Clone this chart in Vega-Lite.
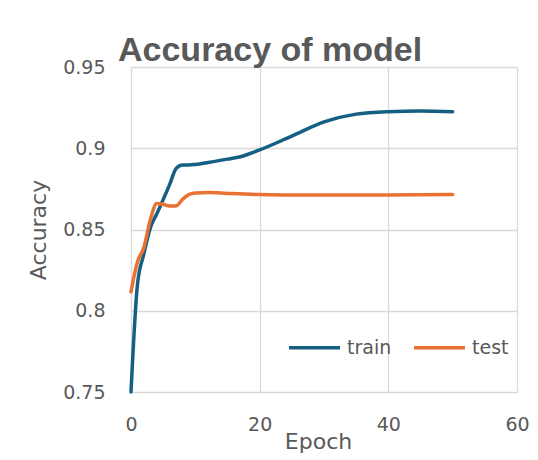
{
  "$schema": "https://vega.github.io/schema/vega-lite/v6.json",
  "width": 386,
  "height": 325,
  "autosize": "none",
  "padding": {"left": 131, "top": 67, "right": 21, "bottom": 68},
  "background": "white",
  "title": {
    "text": "Accuracy of model",
    "anchor": "start",
    "frame": "group",
    "dx": -13,
    "dy": 44,
    "offset": 7,
    "baseline": "alphabetic",
    "font": "Liberation Sans",
    "fontSize": 34,
    "fontWeight": "bold",
    "color": "#595959"
  },
  "data": {
    "values": [
      {"epoch": 0, "series": "train", "accuracy": 0.75},
      {"epoch": 1, "series": "train", "accuracy": 0.816},
      {"epoch": 2, "series": "train", "accuracy": 0.835},
      {"epoch": 3, "series": "train", "accuracy": 0.851},
      {"epoch": 4, "series": "train", "accuracy": 0.8595},
      {"epoch": 5, "series": "train", "accuracy": 0.8684},
      {"epoch": 6, "series": "train", "accuracy": 0.8776},
      {"epoch": 7, "series": "train", "accuracy": 0.8875},
      {"epoch": 8, "series": "train", "accuracy": 0.8897},
      {"epoch": 9, "series": "train", "accuracy": 0.8897},
      {"epoch": 10, "series": "train", "accuracy": 0.89},
      {"epoch": 12, "series": "train", "accuracy": 0.8912},
      {"epoch": 15, "series": "train", "accuracy": 0.8933},
      {"epoch": 17, "series": "train", "accuracy": 0.8948},
      {"epoch": 20, "series": "train", "accuracy": 0.899},
      {"epoch": 25, "series": "train", "accuracy": 0.9075},
      {"epoch": 30, "series": "train", "accuracy": 0.9162},
      {"epoch": 35, "series": "train", "accuracy": 0.921},
      {"epoch": 40, "series": "train", "accuracy": 0.9225},
      {"epoch": 45, "series": "train", "accuracy": 0.9229},
      {"epoch": 50, "series": "train", "accuracy": 0.9225},
      {"epoch": 0, "series": "test", "accuracy": 0.8117},
      {"epoch": 1, "series": "test", "accuracy": 0.83},
      {"epoch": 2, "series": "test", "accuracy": 0.839},
      {"epoch": 3, "series": "test", "accuracy": 0.856},
      {"epoch": 4, "series": "test", "accuracy": 0.866},
      {"epoch": 5, "series": "test", "accuracy": 0.8655},
      {"epoch": 6, "series": "test", "accuracy": 0.8645},
      {"epoch": 7, "series": "test", "accuracy": 0.8645},
      {"epoch": 8, "series": "test", "accuracy": 0.8685},
      {"epoch": 9, "series": "test", "accuracy": 0.8715},
      {"epoch": 10, "series": "test", "accuracy": 0.8725},
      {"epoch": 12, "series": "test", "accuracy": 0.8727},
      {"epoch": 15, "series": "test", "accuracy": 0.8722},
      {"epoch": 20, "series": "test", "accuracy": 0.8715},
      {"epoch": 25, "series": "test", "accuracy": 0.8712},
      {"epoch": 30, "series": "test", "accuracy": 0.8712},
      {"epoch": 40, "series": "test", "accuracy": 0.8713},
      {"epoch": 50, "series": "test", "accuracy": 0.8715}
    ]
  },
  "mark": {
    "type": "line",
    "interpolate": "monotone",
    "strokeWidth": 3.5,
    "strokeCap": "round",
    "strokeJoin": "round"
  },
  "encoding": {
    "x": {
      "field": "epoch",
      "type": "quantitative",
      "scale": {"domain": [0, 60], "nice": false, "zero": false},
      "axis": {
        "title": "Epoch",
        "values": [0, 20, 40, 60],
        "labelFlush": false,
        "titleX": 187,
        "titleY": 56,
        "titleAlign": "center",
        "titleBaseline": "alphabetic",
        "labelPadding": 23
      }
    },
    "y": {
      "field": "accuracy",
      "type": "quantitative",
      "scale": {"domain": [0.75, 0.95], "nice": false, "zero": false},
      "axis": {
        "title": "Accuracy",
        "values": [0.75, 0.8, 0.85, 0.9, 0.95],
        "labelExpr": "replace(format(datum.value, '.2f'), /0$/, '')",
        "titleX": -86,
        "titleY": 162.5,
        "titleAlign": "center",
        "titleAngle": -90,
        "titleBaseline": "alphabetic",
        "labelPadding": 26
      }
    },
    "color": {
      "field": "series",
      "type": "nominal",
      "scale": {"domain": ["train", "test"], "range": ["#156082", "#E97132"]},
      "legend": {
        "title": null,
        "orient": "none",
        "direction": "horizontal",
        "legendX": 156,
        "legendY": 253,
        "symbolType": "stroke",
        "symbolSize": 2600,
        "symbolStrokeWidth": 3.5,
        "labelFontSize": 19,
        "labelOffset": 5,
        "columnPadding": 15
      }
    }
  },
  "config": {
    "view": {"stroke": null},
    "font": "DejaVu Sans",
    "axis": {
      "grid": true,
      "gridColor": "#d9d9d9",
      "gridWidth": 1.3,
      "domain": false,
      "ticks": false,
      "labelFont": "DejaVu Sans",
      "labelFontSize": 19,
      "labelColor": "#595959",
      "titleFont": "DejaVu Sans",
      "titleFontSize": 22,
      "titleFontWeight": "normal",
      "titleColor": "#595959"
    },
    "legend": {
      "labelFont": "DejaVu Sans",
      "labelColor": "#595959"
    }
  }
}
